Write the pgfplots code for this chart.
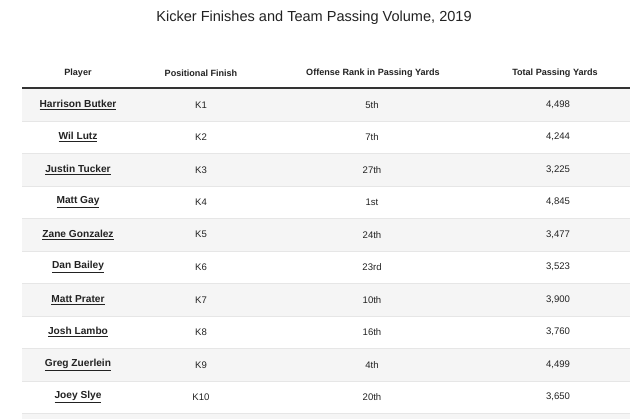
\documentclass[border=0pt]{standalone}
\usepackage{fontspec}
\setmainfont{Liberation Sans}
\usepackage{pgfplots}
\pgfplotsset{compat=1.18}
\usepackage{pgfplotstable}

\definecolor{rowgray}{HTML}{F5F5F5}
\definecolor{linegray}{HTML}{E6E6E6}
\definecolor{txt}{HTML}{222222}
\definecolor{hdrline}{HTML}{333333}

\pgfplotstableread[col sep=semicolon]{
y;player;finish;rank;yards
104.75;Harrison Butker;K1;5th;4498
137.25;Wil Lutz;K2;7th;4244
169.75;Justin Tucker;K3;27th;3225
202.25;Matt Gay;K4;1st;4845
234.75;Zane Gonzalez;K5;24th;3477
267.25;Dan Bailey;K6;23rd;3523
299.75;Matt Prater;K7;10th;3900
332.25;Josh Lambo;K8;16th;3760
364.75;Greg Zuerlein;K9;4th;4499
397.25;Joey Slye;K10;20th;3650
}\kickers

\begin{document}
\begin{tikzpicture}
\begin{axis}[
  scale only axis, width=640bp, height=419bp,
  xmin=0, xmax=640, ymin=0, ymax=419, y dir=reverse,
  hide axis, clip=false,
  /pgf/number format/.cd, 1000 sep={,}, assume math mode=true,
]
\path (rel axis cs:0,0) rectangle (rel axis cs:1,1);
% shaded rows
\addplot[fill=rowgray, draw=none] coordinates {(22,88.5) (630,88.5) (630,121) (22,121)} -- cycle;
\addplot[fill=rowgray, draw=none] coordinates {(22,153.5) (630,153.5) (630,186) (22,186)} -- cycle;
\addplot[fill=rowgray, draw=none] coordinates {(22,218.5) (630,218.5) (630,251) (22,251)} -- cycle;
\addplot[fill=rowgray, draw=none] coordinates {(22,283.5) (630,283.5) (630,316) (22,316)} -- cycle;
\addplot[fill=rowgray, draw=none] coordinates {(22,348.5) (630,348.5) (630,381) (22,381)} -- cycle;
\addplot[fill=rowgray, draw=none] coordinates {(22,413.5) (630,413.5) (630,419) (22,419)} -- cycle;
% row separators
\addplot[linegray, line width=0.8bp] coordinates {(22,121) (630,121)};
\addplot[linegray, line width=0.8bp] coordinates {(22,153.5) (630,153.5)};
\addplot[linegray, line width=0.8bp] coordinates {(22,186) (630,186)};
\addplot[linegray, line width=0.8bp] coordinates {(22,218.5) (630,218.5)};
\addplot[linegray, line width=0.8bp] coordinates {(22,251) (630,251)};
\addplot[linegray, line width=0.8bp] coordinates {(22,283.5) (630,283.5)};
\addplot[linegray, line width=0.8bp] coordinates {(22,316) (630,316)};
\addplot[linegray, line width=0.8bp] coordinates {(22,348.5) (630,348.5)};
\addplot[linegray, line width=0.8bp] coordinates {(22,381) (630,381)};
\addplot[linegray, line width=0.8bp] coordinates {(22,413.5) (630,413.5)};
% header rule
\addplot[hdrline, line width=1.6bp] coordinates {(22,88) (630,88)};
% title and headers
\node[font=\fontsize{14.6}{16}\selectfont, text=txt] at (axis cs:314,18) {Kicker Finishes and Team Passing Volume, 2019};
\node[font=\bfseries\fontsize{9.1}{10}\selectfont, text=txt] at (axis cs:78,73) {Player};
\node[font=\bfseries\fontsize{9.1}{10}\selectfont, text=txt] at (axis cs:201,73) {Positional Finish};
\node[font=\bfseries\fontsize{9.1}{10}\selectfont, text=txt] at (axis cs:373,73) {Offense Rank in Passing Yards};
\node[font=\bfseries\fontsize{9.1}{10}\selectfont, text=txt] at (axis cs:555,73) {Total Passing Yards};
% columns
\addplot[draw=none, mark=none, point meta=explicit symbolic,
  nodes near coords={\underline{\pgfplotspointmeta}}, nodes near coords align=center,
  every node near coord/.append style={font=\bfseries\fontsize{10.2}{11}\selectfont, text=txt, anchor=center}]
  table[x expr=78, y=y, meta=player] {\kickers};
\addplot[draw=none, mark=none, point meta=explicit symbolic,
  nodes near coords, nodes near coords align=center,
  every node near coord/.append style={font=\fontsize{9.6}{11}\selectfont, text=txt, anchor=center}]
  table[x expr=201, y=y, meta=finish] {\kickers};
\addplot[draw=none, mark=none, point meta=explicit symbolic,
  nodes near coords, nodes near coords align=center,
  every node near coord/.append style={font=\fontsize{9.6}{11}\selectfont, text=txt, anchor=center}]
  table[x expr=372, y=y, meta=rank] {\kickers};
\addplot[draw=none, mark=none, point meta=explicit,
  nodes near coords={\pgfmathprintnumber[fixed, precision=0, 1000 sep={,}, assume math mode=true]{\pgfplotspointmeta}}, nodes near coords align=center,
  every node near coord/.append style={font=\fontsize{9.6}{11}\selectfont, text=txt, anchor=center}]
  table[x expr=558, y=y, meta=yards] {\kickers};
\end{axis}
\end{tikzpicture}
\end{document}
